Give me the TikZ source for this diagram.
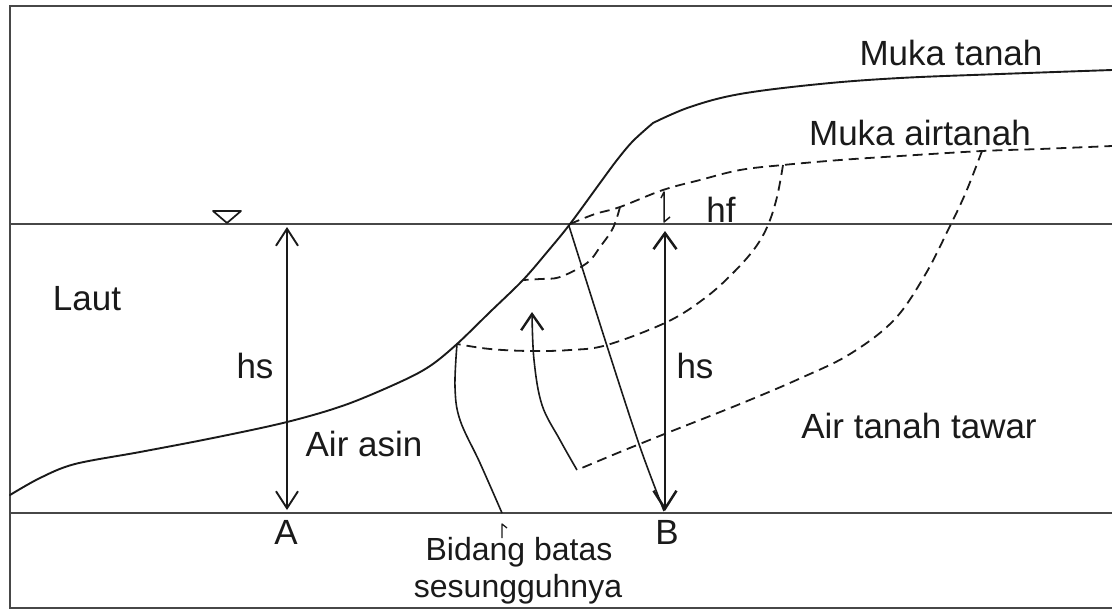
\documentclass[tikz,border=0pt]{standalone}
\usepackage{fontspec}
\setmainfont{Liberation Sans}
\usetikzlibrary{arrows.meta}
\definecolor{ink}{HTML}{1A1A1A}
\definecolor{rule}{HTML}{474747}
\begin{document}
\begin{tikzpicture}[x=1pt,y=-1pt,
  lbl/.style={anchor=base,inner sep=0pt,text=ink,font=\fontsize{35}{42}\selectfont},
  smalllbl/.style={anchor=base,inner sep=0pt,text=ink,font=\fontsize{32}{38}\selectfont},
  frameline/.style={draw=rule,line width=2pt},
  levelline/.style={draw=rule,line width=2.2pt},
  ground/.style={draw=ink,line width=1.9pt,line join=round,line cap=round},
  phreatic/.style={draw=ink,line width=1.8pt,dash pattern=on 10pt off 6pt},
  thin/.style={draw=ink,line width=1.6pt,line join=round}]
\useasboundingbox (0,0) rectangle (1112,611);

% outer frame (open on the right)
\draw[frameline] (1112,6) -- (10,6) -- (10,608) -- (1112,608);

% sea level and base line
\coordinate (seaL) at (10,224);   \coordinate (seaR) at (1112,224);
\coordinate (baseL) at (10,513);  \coordinate (baseR) at (1112,513);
\draw[levelline] (seaL) -- (seaR);
\draw[levelline] (baseL) -- (baseR);

% water level mark
\draw[thin,line width=1.7pt] (213,211) -- (241,211) -- (227,223) -- cycle;

% ground surface (Muka tanah)
\coordinate (shore) at (570,224);
\coordinate (bend) at (653,123);
\draw[ground] plot[smooth,tension=0.55] coordinates {(10,495) (40,478) (75,464) (140,452) (213,438) (287,422) (345,405) (400,382) (430,366) (457,344) (490,312) (523,280) (548,251) (570,224) (600,183) (617,160) (633,141) (653,123)}
  -- plot[smooth,tension=0.6] coordinates {(653,123) (690,107) (740,94) (820,84) (900,78) (1000,74) (1112,70)};

% groundwater table (Muka airtanah)
\draw[phreatic] plot[smooth,tension=0.6] coordinates {(570,224) (595,214) (620,207) (663,190) (700,180) (740,170) (783,165) (840,160) (900,156) (982,151) (1040,149) (1112,146)};

% dashed interfaces
\draw[phreatic] plot[smooth,tension=0.6] coordinates {(620,207) (613,228) (600,247) (587,263) (560,277) (540,279) (523,280)};
\draw[phreatic] plot[smooth,tension=0.6] coordinates {(783,165) (777,197) (768,225) (755,248) (733,273) (705,298) (667,322) (607,345) (570,350) (530,351) (490,349) (457,344)};
\draw[phreatic] plot[smooth,tension=0.6] coordinates {(982,151) (966,192) (950,226) (925,275) (894,320) (850,354) (801,378) (740,404) (667,433) (620,452) (577,470)};

% true interface (Bidang batas sesungguhnya)
\draw[thin] plot[smooth,tension=0.6] coordinates {(457,344) (455,387) (460,420) (480,463) (502,513)};
\draw[thin,line width=1.3pt] (502,538) -- (502,524) -- (507,528);

% flow line with arrow
\coordinate (flowS) at (577,470);
\coordinate (flowE) at (532,310);
\draw[thin,-{Straight Barb[length=16pt,width=22pt,line width=2.4pt]}] plot[smooth,tension=0.6] coordinates {(577,470) (560,440) (542,405) (534,360) (532,312)};

% slanted line from the shore to B
\draw[thin] plot[smooth,tension=0.5] coordinates {(569,226) (607,346) (640,447) (664,511)};

% hs at A
\coordinate (Atop) at (287,227);
\coordinate (Abot) at (287,510);
\draw[thin,{Straight Barb[length=17pt,width=22pt,line width=1.9pt]}-{Straight Barb[length=17pt,width=22pt,line width=1.9pt]}] (Atop) -- (Abot);

% hs at B
\coordinate (Btop) at (665,231);
\coordinate (Bbot) at (665,511);
\draw[thin,line width=1.8pt,{Straight Barb[length=16pt,width=23pt,line width=2.5pt]}-{Straight Barb[length=18pt,width=23pt,line width=2.5pt]}] (Btop) -- (Bbot);

% hf
\coordinate (hfTop) at (664,192);
\coordinate (hfBot) at (664,222);
\draw[thin,line width=1.5pt] (661,198) -- (hfTop) -- (hfBot) -- (670,217);

% labels
\node[lbl] (tanah) at (951,65) {Muka tanah};
\node[lbl] (airtanah) at (920,145) {Muka airtanah};
\node[lbl] (laut) at (87,310) {Laut};
\node[lbl] (hsA) at (255,378) {hs};
\node[lbl] (hsB) at (695,378) {hs};
\node[lbl] (hf) at (721,222) {hf};
\node[lbl] (asin) at (364,456) {Air asin};
\node[lbl] (tawar) at (919,438) {Air tanah tawar};
\node[lbl] (labA) at (286,544) {A};
\node[lbl] (labB) at (667,544) {B};
\node[smalllbl] (bid1) at (519,560) {Bidang batas};
\node[smalllbl] (bid2) at (518,597) {sesungguhnya};
\end{tikzpicture}
\end{document}
